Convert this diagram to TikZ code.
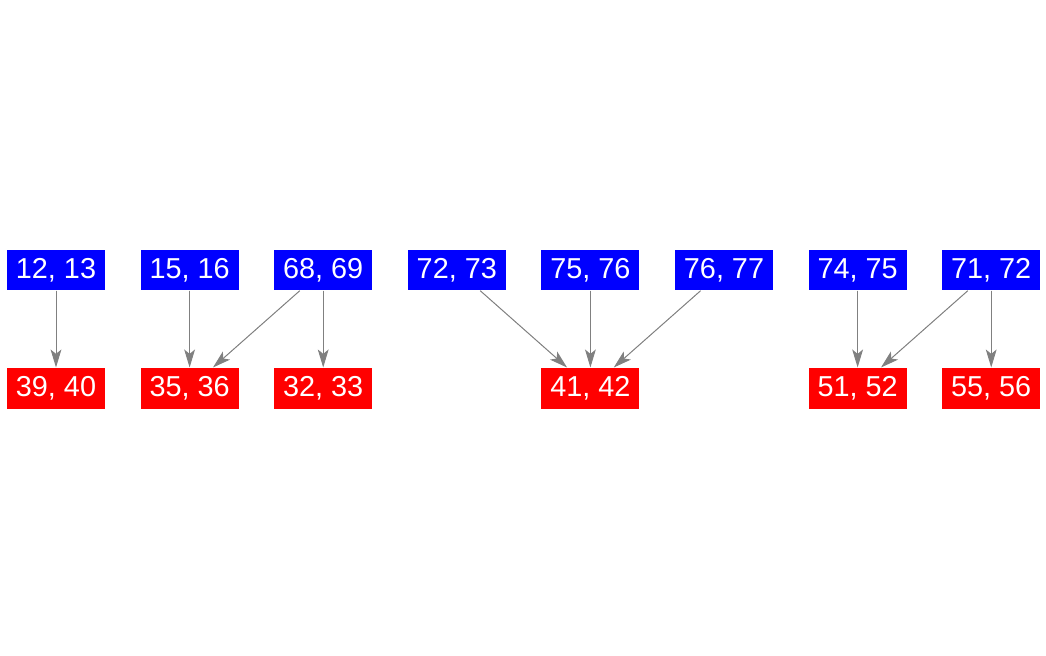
\documentclass[tikz,border=0pt]{standalone}
\usepackage{fontspec}
\setmainfont{Liberation Sans}
\usetikzlibrary{arrows.meta,positioning}

\begin{document}
\begin{tikzpicture}[
    pair/.style={fill=#1, text=white, inner sep=0pt, minimum width=2.45cm, minimum height=1.02cm, font=\fontsize{20.5}{24}\selectfont},
    arrow/.style={-{Stealth[length=0.45cm, width=0.27cm, inset=0.11cm]}, draw=gray, fill=gray, line width=0.7pt}
]
\useasboundingbox (0,0) rectangle (26.15,-16.4);
% top row
\node[pair=blue] (a1213) at (1.4,-6.75) {12, 13};
\node[pair=blue, right=0.876cm of a1213] (a1516) {15, 16};
\node[pair=blue, right=0.876cm of a1516] (a6869) {68, 69};
\node[pair=blue, right=0.876cm of a6869] (a7273) {72, 73};
\node[pair=blue, right=0.876cm of a7273] (a7576) {75, 76};
\node[pair=blue, right=0.876cm of a7576] (a7677) {76, 77};
\node[pair=blue, right=0.876cm of a7677] (a7475) {74, 75};
\node[pair=blue, right=0.876cm of a7475] (a7172) {71, 72};
% bottom row
\node[pair=red, below=1.92cm of a1213] (b3940) {39, 40};
\node[pair=red, below=1.92cm of a1516] (b3536) {35, 36};
\node[pair=red, below=1.92cm of a6869] (b3233) {32, 33};
\node[pair=red, below=1.92cm of a7576] (b4142) {41, 42};
\node[pair=red, below=1.92cm of a7475] (b5152) {51, 52};
\node[pair=red, below=1.92cm of a7172] (b5556) {55, 56};
% edges
\draw[arrow] (a1213) -- (b3940);
\draw[arrow] (a1516) -- (b3536);
\draw[arrow] (a6869) -- (b3536);
\draw[arrow] (a6869) -- (b3233);
\draw[arrow] (a7273) -- (b4142);
\draw[arrow] (a7576) -- (b4142);
\draw[arrow] (a7677) -- (b4142);
\draw[arrow] (a7475) -- (b5152);
\draw[arrow] (a7172) -- (b5152);
\draw[arrow] (a7172) -- (b5556);
\end{tikzpicture}
\end{document}
